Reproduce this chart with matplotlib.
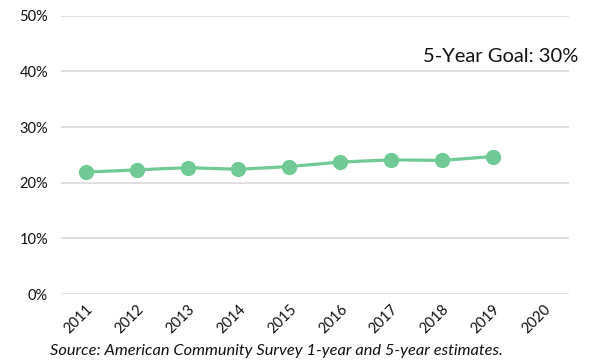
import matplotlib
matplotlib.use("Agg")
import matplotlib.pyplot as plt
from matplotlib.ticker import PercentFormatter

years = ["2011", "2012", "2013", "2014", "2015", "2016", "2017", "2018", "2019", "2020"]
values = [0.219, 0.223, 0.227, 0.224, 0.229, 0.237, 0.241, 0.240, 0.247]
goal_text = "5-Year Goal: 30%"
source_text = "Source: American Community Survey 1-year and 5-year estimates."

plt.rcParams["font.family"] = ["Lato", "DejaVu Sans"]

fig = plt.figure(figsize=(5.94, 3.64), dpi=100)
ax = fig.add_axes([60.5 / 594, 1 - 294 / 364, (569 - 60.5) / 594, (294 - 15.7) / 364])

x = list(range(len(years)))
ax.plot(x[:len(values)], values, color="#6fca93", lw=2.3, marker="o", ms=11,
        markeredgewidth=0, solid_capstyle="round", zorder=3)

ax.set_xlim(-0.5, len(years) - 0.5)
ax.set_ylim(0, 0.5)
ax.set_yticks([0, 0.1, 0.2, 0.3, 0.4, 0.5])
ax.yaxis.set_major_formatter(PercentFormatter(1.0, decimals=0))
ax.set_xticks(x)
ax.set_xticklabels(years, rotation=45, ha="right", rotation_mode="anchor")
ax.tick_params(axis="both", length=0, labelsize=10.5, colors="#111111")
ax.tick_params(axis="y", pad=9)
ax.tick_params(axis="x", pad=6)
ax.grid(axis="y", color="#d9d9d9", lw=1.2)
ax.set_axisbelow(True)
for s in ax.spines.values():
    s.set_visible(False)

fig.text(578 / 594, 1 - 57 / 364, goal_text, ha="right", va="center", fontsize=14.5, color="#111111")
fig.text(50 / 594, 1 - 351 / 364, source_text, ha="left", va="center", fontsize=11.8,
         style="italic", color="#111111")

fig.savefig("out.png", dpi=100)
